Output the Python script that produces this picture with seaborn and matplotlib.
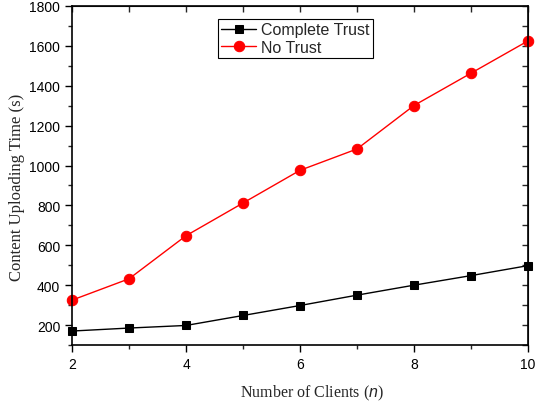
import pandas as pd
import matplotlib
matplotlib.use('Agg')
import matplotlib.pyplot as plt
from matplotlib.ticker import MultipleLocator
import seaborn as sns

# values
clients = [2, 3, 4, 5, 6, 7, 8, 9, 10]
complete_trust = [170, 185, 198, 248, 298, 350, 400, 448, 498]
no_trust = [325, 432, 648, 812, 976, 1083, 1301, 1463, 1625]
series_names = ['Complete Trust', 'No Trust']

df = pd.DataFrame({
    'n': clients * 2,
    'time': complete_trust + no_trust,
    'scheme': [series_names[0]] * len(clients) + [series_names[1]] * len(clients),
})

sns.set_style('ticks')
plt.rcParams['font.family'] = ['Liberation Sans', 'DejaVu Sans']
plt.rcParams['mathtext.fontset'] = 'custom'
plt.rcParams['mathtext.it'] = 'Liberation Sans:italic'

fig = plt.figure(figsize=(5.35, 4.02), dpi=100)
ax = fig.add_axes([0.1346, 0.1393, 0.8523, 0.8433])

sns.lineplot(data=df, x='n', y='time', hue='scheme', style='scheme',
             palette={'Complete Trust': 'black', 'No Trust': 'red'},
             markers={'Complete Trust': 's', 'No Trust': 'o'},
             dashes=False, linewidth=1, ax=ax, clip_on=False)

# marker sizes differ a bit between the two series
msizes = [6, 7.5]
for line, ms in zip(ax.lines, msizes):
    line.set_markersize(ms)
    line.set_markeredgecolor(line.get_color())

ax.set_xlim(2, 10)
ax.set_ylim(100, 1800)
ax.xaxis.set_major_locator(MultipleLocator(2))
ax.xaxis.set_minor_locator(MultipleLocator(1))
ax.yaxis.set_major_locator(MultipleLocator(200))
ax.yaxis.set_minor_locator(MultipleLocator(100))

for s in ax.spines.values():
    s.set_visible(True)
    s.set_color('black')
    s.set_linewidth(1.2)

ax.tick_params(which='major', direction='out', length=5, width=1, labelsize=10, colors='black')
ax.tick_params(which='minor', direction='out', length=3, width=1)

# mirrored ticks on top and right, pointing inward
top = ax.secondary_xaxis('top')
top.xaxis.set_major_locator(MultipleLocator(1))
top.tick_params(direction='in', length=4, width=1, labeltop=False)
right = ax.secondary_yaxis('right')
right.yaxis.set_major_locator(MultipleLocator(100))
right.tick_params(direction='in', length=4, width=1, labelright=False)

ax.set_xlabel('Number of Clients ($\\mathit{n}$)', fontsize=11.5,
              family='Liberation Serif')
ax.set_ylabel('Content Uploading Time (s)', fontsize=12,
              family='Liberation Serif')
# label placement as in the original (slightly off-centre)
ax.xaxis.set_label_coords(0.526, -0.11)
ax.yaxis.set_label_coords(-0.103, 0.469)

leg = ax.legend(loc='upper left', bbox_to_anchor=(218 / 535, 1 - 20 / 402),
                bbox_transform=fig.transFigure, fontsize=11.5, frameon=True,
                fancybox=False, framealpha=1, edgecolor='black',
                handlelength=2.2, borderpad=0.2, labelspacing=0.15,
                handletextpad=0.3, borderaxespad=0)
leg.get_frame().set_linewidth(0.8)
for h, ms in zip(leg.legend_handles, msizes):
    h.set_markersize(ms)
    h.set_markeredgecolor(h.get_color())

fig.savefig('out.png', dpi=100)
